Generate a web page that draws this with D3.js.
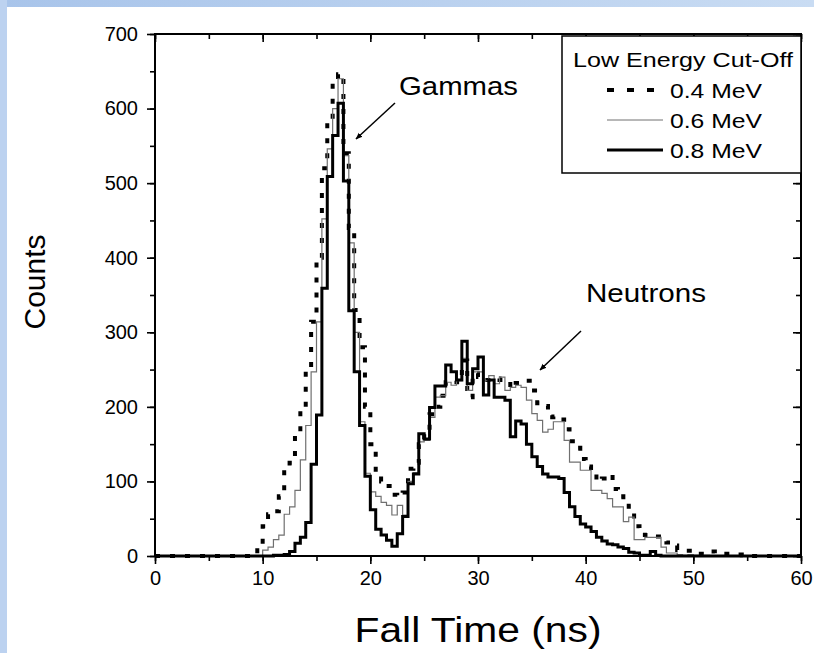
<!DOCTYPE html>
<html>
<head>
<meta charset="utf-8">
<script src="https://cdn.jsdelivr.net/npm/d3@7"></script>
<style>
  body { margin: 0; background: #fff; }
  svg { display: block; font-family: "Liberation Sans", Arial, Helvetica, sans-serif; }
</style>
</head>
<body>
<div id="graphic"></div>
<script>
// fall time histograms, 0.5 ns bins from 0 to 60 ns

var binStart = 0, binWidth = 0.5;

var cut04 = [
  0, 0, 0, 0, 0, 0, 0, 0, 0, 0, 0, 0, 0, 0, 0, 0, 0, 0, 0, 15,
  40, 56, 60, 80, 120, 125, 162, 200, 250, 314, 400, 520, 581, 637, 646, 540, 440, 330, 280, 200,
  150, 111, 100, 94, 82, 80, 85, 117, 125, 150, 165, 190, 200, 215, 233, 235, 233, 262, 213, 245,
  240, 236, 236, 238, 236, 236, 225, 232, 235, 235, 222, 205, 201, 186, 187, 183, 170, 154, 145, 130,
  120, 112, 100, 104, 109, 90, 80, 74, 66, 40, 34, 28, 28, 26, 20, 18, 14, 8, 7, 7,
  4, 3, 5, 6, 3, 3, 3, 2, 2, 1, 0, 0, 0, 0, 0, 0, 0, 0, 0, 0
];

var cut06 = [
  0, 0, 0, 0, 0, 0, 0, 0, 0, 0, 0, 0, 0, 0, 0, 0, 0, 0, 0, 0,
  8, 12, 22, 28, 56, 66, 88, 129, 175, 247, 314, 452, 546, 600, 640, 537, 420, 300, 180, 111,
  86, 80, 72, 68, 55, 68, 55, 100, 112, 153, 155, 186, 213, 215, 233, 229, 235, 265, 222, 247,
  247, 235, 242, 231, 240, 222, 226, 229, 226, 209, 191, 182, 166, 170, 180, 180, 155, 126, 126, 115,
  115, 88, 88, 84, 77, 66, 66, 46, 52, 22, 22, 25, 25, 25, 12, 4, 4, 2, 1, 2,
  1, 0, 1, 0, 0, 0, 0, 0, 0, 0, 0, 0, 0, 0, 0, 0, 0, 0, 0, 0
];

var cut08 = [
  0, 0, 0, 0, 0, 0, 0, 0, 0, 0, 0, 0, 0, 0, 0, 0, 0, 0, 0, 0,
  0, 0, 1, 1, 2, 6, 17, 25, 45, 123, 189, 359, 509, 564, 607, 503, 329, 247, 175, 107,
  62, 36, 28, 21, 13, 30, 53, 97, 110, 164, 157, 199, 228, 228, 256, 247, 236, 288, 231, 251,
  267, 216, 236, 213, 213, 209, 160, 181, 177, 150, 133, 120, 110, 106, 106, 104, 85, 66, 53, 43,
  39, 33, 25, 20, 16, 15, 12, 10, 5, 4, 1, 1, 6, 1, 0, 0, 0, 0, 0, 0,
  0, 0, 0, 0, 0, 0, 0, 0, 0, 0, 0, 0, 0, 0, 0, 0, 0, 0, 0, 0
];

var seriesNames = ["0.4 MeV", "0.6 MeV", "0.8 MeV"];
var xTicks = [0, 10, 20, 30, 40, 50, 60];
var yTicks = [0, 100, 200, 300, 400, 500, 600, 700];

var W = 814, H = 653;

var svg = d3.select("#graphic").append("svg")
    .attr("width", W)
    .attr("height", H);

// blue frame of the slide
var defs = svg.append("defs");
var grad = defs.append("linearGradient").attr("id", "band")
    .attr("x1", 0).attr("x2", 1).attr("y1", 0).attr("y2", 0);
grad.append("stop").attr("offset", 0).attr("stop-color", "#a8c4ea");
grad.append("stop").attr("offset", 1).attr("stop-color", "#c9dcf3");
svg.append("rect").attr("x", 0).attr("y", 0).attr("width", W).attr("height", 7).attr("fill", "url(#band)");
svg.append("rect").attr("x", 0).attr("y", 0).attr("width", 7).attr("height", H).attr("fill", "#bcd2f0");

defs.append("marker").attr("id", "head")
    .attr("viewBox", "0 0 10 10").attr("refX", 9).attr("refY", 5)
    .attr("markerWidth", 7).attr("markerHeight", 7)
    .attr("markerUnits", "userSpaceOnUse")
    .attr("orient", "auto")
    .append("path").attr("d", "M0,1 L10,5 L0,9 Z").attr("fill", "#000");

var x = d3.scaleLinear().domain([0, 60]).range([155, 801]);
var y = d3.scaleLinear().domain([0, 700]).range([556, 34]);

function steps(vals) {
  var pts = vals.map(function (v, i) { return [binStart + i * binWidth, v]; });
  pts.push([binStart + vals.length * binWidth, vals[vals.length - 1]]);
  return pts;
}

var line = d3.line()
    .x(function (d) { return x(d[0]); })
    .y(function (d) { return y(d[1]); })
    .curve(d3.curveStepAfter);

var styles = [
  { stroke: "#000", width: 4, dash: "5,10" },
  { stroke: "#707070", width: 1.2, dash: null },
  { stroke: "#000", width: 3, dash: null }
];

var plot = svg.append("g");
[cut04, cut06, cut08].forEach(function (vals, i) {
  plot.append("path")
      .attr("d", line(steps(vals)))
      .attr("fill", "none")
      .attr("stroke", styles[i].stroke)
      .attr("stroke-width", styles[i].width)
      .attr("stroke-dasharray", styles[i].dash);
});

// axes: bottom/left outward, top/right mirrored inward
var minorX = d3.range(0, 61, 5), minorY = d3.range(0, 701, 50);

svg.append("g").attr("transform", "translate(0," + y(0) + ")")
    .call(d3.axisBottom(x).tickValues(minorX).tickSize(5).tickFormat(""));
svg.append("g").attr("transform", "translate(0," + y(0) + ")")
    .call(d3.axisBottom(x).tickValues(xTicks).tickSize(8).tickPadding(7).tickFormat(d3.format("d")));
svg.append("g").attr("transform", "translate(" + x(0) + ",0)")
    .call(d3.axisLeft(y).tickValues(minorY).tickSize(5).tickFormat(""));
svg.append("g").attr("transform", "translate(" + x(0) + ",0)")
    .call(d3.axisLeft(y).tickValues(yTicks).tickSize(8).tickPadding(9).tickFormat(d3.format("d")));
svg.append("g").attr("transform", "translate(0," + y(700) + ")")
    .call(d3.axisBottom(x).tickValues(minorX).tickSize(5).tickFormat(""));
svg.append("g").attr("transform", "translate(0," + y(700) + ")")
    .call(d3.axisBottom(x).tickValues(xTicks).tickSize(8).tickFormat(""));
svg.append("g").attr("transform", "translate(" + x(60) + ",0)")
    .call(d3.axisLeft(y).tickValues(minorY).tickSize(5).tickFormat(""));
svg.append("g").attr("transform", "translate(" + x(60) + ",0)")
    .call(d3.axisLeft(y).tickValues(yTicks).tickSize(8).tickFormat(""));

svg.selectAll(".domain").remove();
svg.selectAll(".tick line").attr("stroke", "#000").attr("stroke-width", 1.6);
svg.selectAll(".tick text").attr("font-size", 20).attr("fill", "#000")
    .attr("font-family", "Liberation Sans, Arial, sans-serif");

svg.append("rect")
    .attr("x", x(0)).attr("y", y(700))
    .attr("width", x(60) - x(0)).attr("height", y(0) - y(700))
    .attr("fill", "none").attr("stroke", "#000").attr("stroke-width", 2);

// axis titles
svg.append("text")
    .attr("x", 478).attr("y", 642)
    .attr("text-anchor", "middle")
    .attr("font-size", 35)
    .attr("textLength", 247).attr("lengthAdjust", "spacingAndGlyphs")
    .text("Fall Time (ns)");

svg.append("text")
    .attr("transform", "translate(45,282) rotate(-90)")
    .attr("text-anchor", "middle")
    .attr("font-size", 30)
    .text("Counts");

// annotations
svg.append("text").attr("x", 399).attr("y", 95)
    .attr("font-size", 26)
    .attr("textLength", 119).attr("lengthAdjust", "spacingAndGlyphs")
    .text("Gammas");
svg.append("line")
    .attr("x1", 395).attr("y1", 103).attr("x2", 356).attr("y2", 139)
    .attr("stroke", "#000").attr("stroke-width", 1.5)
    .attr("marker-end", "url(#head)");

svg.append("text").attr("x", 586).attr("y", 302)
    .attr("font-size", 26)
    .attr("textLength", 120).attr("lengthAdjust", "spacingAndGlyphs")
    .text("Neutrons");
svg.append("line")
    .attr("x1", 581).attr("y1", 331).attr("x2", 540).attr("y2", 370)
    .attr("stroke", "#000").attr("stroke-width", 1.5)
    .attr("marker-end", "url(#head)");

// legend
var lg = svg.append("g");
lg.append("rect")
    .attr("x", 562).attr("y", 36).attr("width", 239).attr("height", 137)
    .attr("fill", "#fff").attr("stroke", "#000").attr("stroke-width", 1.5);
lg.append("text").attr("x", 573).attr("y", 67)
    .attr("font-size", 21)
    .attr("textLength", 220).attr("lengthAdjust", "spacingAndGlyphs")
    .text("Low Energy Cut-Off");

seriesNames.forEach(function (name, i) {
  var ly = 90 + i * 30;
  lg.append("line")
      .attr("x1", 607).attr("x2", 663).attr("y1", ly).attr("y2", ly)
      .attr("stroke", styles[i].stroke)
      .attr("stroke-width", i == 0 ? 4 : (i == 1 ? 1 : 3))
      .attr("stroke-dasharray", i == 0 ? "7,13" : null);
  lg.append("text").attr("x", 670).attr("y", ly + 8)
      .attr("font-size", 21)
      .attr("textLength", 92).attr("lengthAdjust", "spacingAndGlyphs")
      .text(name);
});
</script>
</body>
</html>
